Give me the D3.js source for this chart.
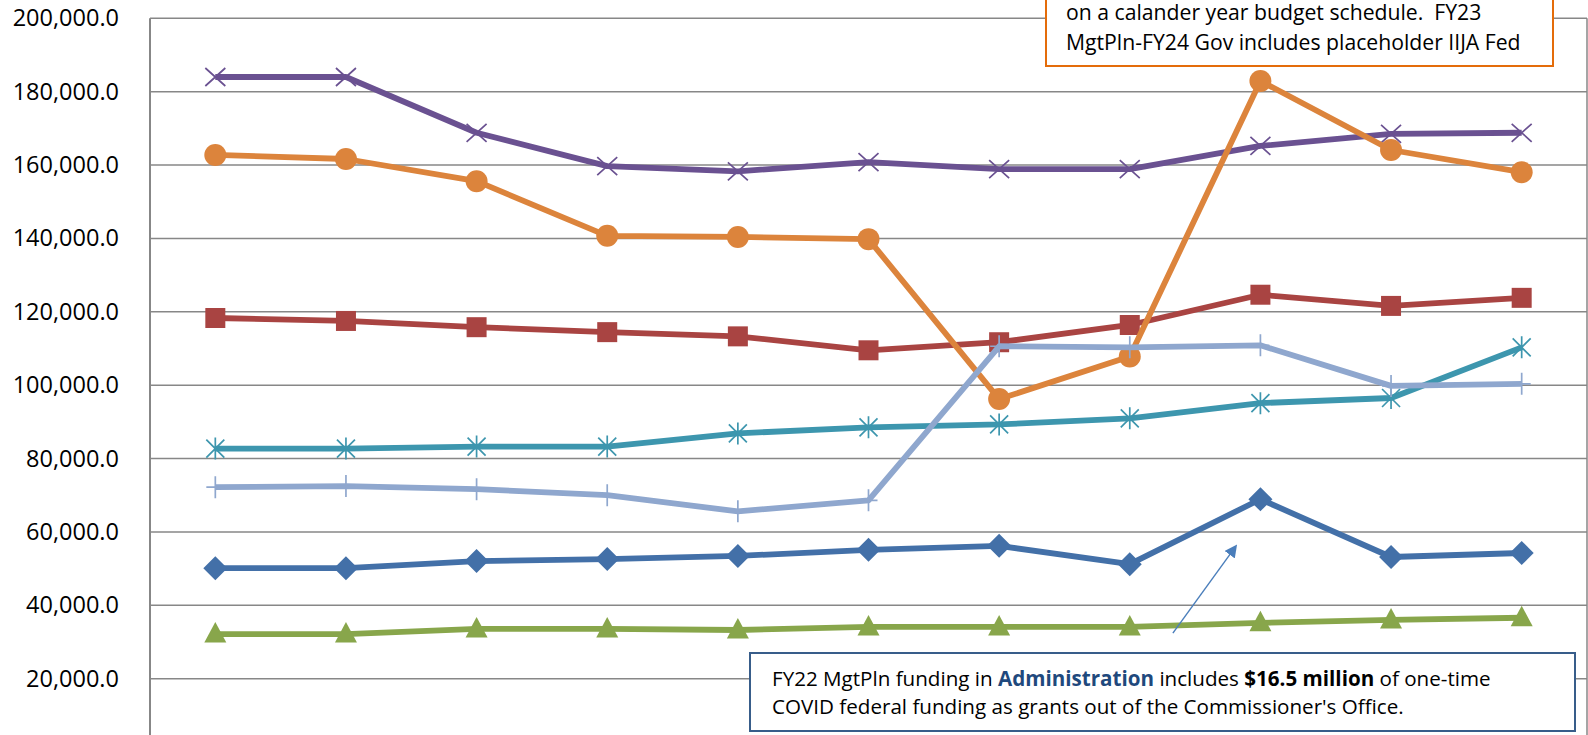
<!DOCTYPE html>
<html>
<head>
<meta charset="utf-8">
<script src="https://cdn.jsdelivr.net/npm/d3@7"></script>
<style>
  body { margin: 0; background: #fff; overflow: hidden; }
  text { font-family: "Open Sans", sans-serif; }
</style>
</head>
<body>
<div id="chart"></div>
<script>
// chart data
var categories = ["FY14 Act", "FY15 Act", "FY16 Act", "FY17 Act", "FY18 Act", "FY19 Act",
                  "FY20 Act", "FY21 Act", "FY22 MgtPln", "FY23 MgtPln", "FY24 Gov"];
var administration = [50100, 50100, 52050, 52600, 53450, 55100, 56200, 51200, 68900, 53150, 54250];
var seriesRed      = [118300, 117500, 115800, 114450, 113300, 109500, 111700, 116400, 124650, 121600, 123800];
var seriesGreen    = [32150, 32150, 33550, 33550, 33250, 34100, 34100, 34100, 35200, 36000, 36600];
var seriesPurple   = [184000, 184000, 168800, 159700, 158300, 160800, 158900, 158900, 165200, 168500, 168800];
var seriesTeal     = [82700, 82700, 83250, 83250, 86850, 88500, 89300, 90950, 95100, 96500, 110300];
var seriesOrange   = [162750, 161650, 155600, 140700, 140400, 139800, 96200, 107800, 182900, 164100, 158050];
var seriesLtBlue   = [72200, 72500, 71650, 70000, 65600, 68600, 110600, 110300, 110850, 99800, 100350];
var yTicks = [20000, 40000, 60000, 80000, 100000, 120000, 140000, 160000, 180000, 200000];

var series = [
  {name: "Administration", values: administration, color: "#4370a8", marker: "diamond"},
  {name: "Series 2", values: seriesRed, color: "#a94442", marker: "square"},
  {name: "Series 3", values: seriesGreen, color: "#88a64b", marker: "triangle"},
  {name: "Series 4", values: seriesPurple, color: "#6a5191", marker: "x"},
  {name: "Series 5", values: seriesTeal, color: "#3d96ae", marker: "star"},
  {name: "Series 6", values: seriesOrange, color: "#dc843c", marker: "circle"},
  {name: "Series 7", values: seriesLtBlue, color: "#8fa7ce", marker: "plus"}
];

var W = 1588, H = 735;
var plotLeft = 150, plotRight = 1587, plotTop = 18.3, plotBottom = 752;

var svg = d3.select("#chart").append("svg")
    .attr("width", W)
    .attr("height", H);

// the category axis sits below the visible area, only the scale is used
var x = d3.scalePoint().domain(categories).range([plotLeft, plotRight]).padding(0.5);
var y = d3.scaleLinear().domain([0, 200000]).range([plotBottom, plotTop]);

// gridlines
svg.append("g")
  .selectAll("line")
  .data(yTicks)
  .join("line")
    .attr("x1", plotLeft)
    .attr("x2", plotRight)
    .attr("y1", function(d) { return y(d); })
    .attr("y2", function(d) { return y(d); })
    .attr("stroke", "#878787")
    .attr("stroke-width", 1.5);

// right border of plot
svg.append("line")
    .attr("x1", plotRight).attr("x2", plotRight)
    .attr("y1", y(200000)).attr("y2", plotBottom)
    .attr("stroke", "#878787").attr("stroke-width", 1.5);

// y axis
var yAxis = svg.append("g")
    .attr("transform", "translate(" + plotLeft + ",0)")
    .call(d3.axisLeft(y).tickValues(yTicks).tickSize(0).tickPadding(31).tickFormat(d3.format(",.1f")));
yAxis.select(".domain")
    .attr("d", "M0," + y(200000) + "V" + plotBottom)
    .attr("stroke", "#878787")
    .attr("stroke-width", 2);
yAxis.selectAll("text")
    .attr("font-size", 23.5)
    .attr("fill", "#000")
    .style("font-family", "Open Sans, sans-serif");

var line = d3.line()
    .x(function(d, i) { return x(categories[i]); })
    .y(function(d) { return y(d); });

function markerPath(type) {
  if (type == "diamond") return "M0,-12L12,0L0,12L-12,0Z";
  if (type == "square") return d3.symbol(d3.symbolSquare, 400)();
  if (type == "triangle") return "M0,-12L11,8.5L-11,8.5Z";
  if (type == "circle") return d3.symbol(d3.symbolCircle, 380)();
  if (type == "x") return "M-10,-9L10,9M-10,9L10,-9";
  if (type == "star") return "M-9,-9L9,9M-9,9L9,-9M0,-11V11";
  if (type == "plus") return "M0,-11V11M-9,0H9";
}

var filled = {diamond: true, square: true, triangle: true, circle: true};

series.forEach(function(s) {
  var g = svg.append("g").attr("class", "series");

  g.append("path")
      .datum(s.values)
      .attr("fill", "none")
      .attr("stroke", s.color)
      .attr("stroke-width", 5.8)
      .attr("stroke-linejoin", "round")
      .attr("d", line);

  g.selectAll("path.marker")
    .data(s.values)
    .join("path")
      .attr("class", "marker")
      .attr("transform", function(d, i) { return "translate(" + x(categories[i]) + "," + y(d) + ")"; })
      .attr("d", markerPath(s.marker))
      .attr("fill", filled[s.marker] ? s.color : "none")
      .attr("stroke", s.color)
      .attr("stroke-width", filled[s.marker] ? 0 : 1.7);
});

// top right note (orange box, partly above the picture)
var note1 = svg.append("g");
note1.append("rect")
    .attr("x", 1046).attr("y", -40)
    .attr("width", 507).attr("height", 106)
    .attr("fill", "#fff")
    .attr("stroke", "#e46c0a")
    .attr("stroke-width", 2);
var note1Lines = ["on a calander year budget schedule.  FY23", "MgtPln-FY24 Gov includes placeholder IIJA Fed"];
note1.selectAll("text")
  .data(note1Lines)
  .join("text")
    .attr("x", 1066)
    .attr("y", function(d, i) { return 20 + i * 30; })
    .attr("font-size", 21.2)
    .attr("fill", "#000")
    .style("white-space", "pre")
    .text(function(d) { return d; });

// arrow pointing at the FY22 Administration point
var step = x.step();
var ax1 = x(categories[7]) + 0.33 * step, ay1 = y(32400);
var ax2 = x(categories[7]) + 0.81 * step, ay2 = y(56000);
svg.append("defs").append("marker")
    .attr("id", "arrowhead")
    .attr("viewBox", "0 0 10 10")
    .attr("refX", 8).attr("refY", 5)
    .attr("markerWidth", 9).attr("markerHeight", 9)
    .attr("orient", "auto")
  .append("path")
    .attr("d", "M0,0L10,5L0,10Z")
    .attr("fill", "#4a7ebb");
svg.append("line")
    .attr("x1", ax1).attr("y1", ay1)
    .attr("x2", ax2).attr("y2", ay2)
    .attr("stroke", "#4a7ebb")
    .attr("stroke-width", 1.4)
    .attr("marker-end", "url(#arrowhead)");

// bottom note (blue box)
var note2 = svg.append("g");
note2.append("rect")
    .attr("x", 750).attr("y", 653)
    .attr("width", 825).attr("height", 78)
    .attr("fill", "#fff")
    .attr("stroke", "#385d8a")
    .attr("stroke-width", 2);
var t1 = note2.append("text")
    .attr("x", 772).attr("y", 686)
    .attr("font-size", 20.6)
    .attr("fill", "#000");
t1.append("tspan").text("FY22 MgtPln funding in ");
t1.append("tspan").attr("font-weight", "bold").attr("fill", "#1f497d").text("Administration");
t1.append("tspan").text(" includes ");
t1.append("tspan").attr("font-weight", "bold").text("$16.5 million");
t1.append("tspan").text(" of one-time");
note2.append("text")
    .attr("x", 772).attr("y", 714)
    .attr("font-size", 20.6)
    .attr("fill", "#000")
    .text("COVID federal funding as grants out of the Commissioner's Office.");
</script>
</body>
</html>
